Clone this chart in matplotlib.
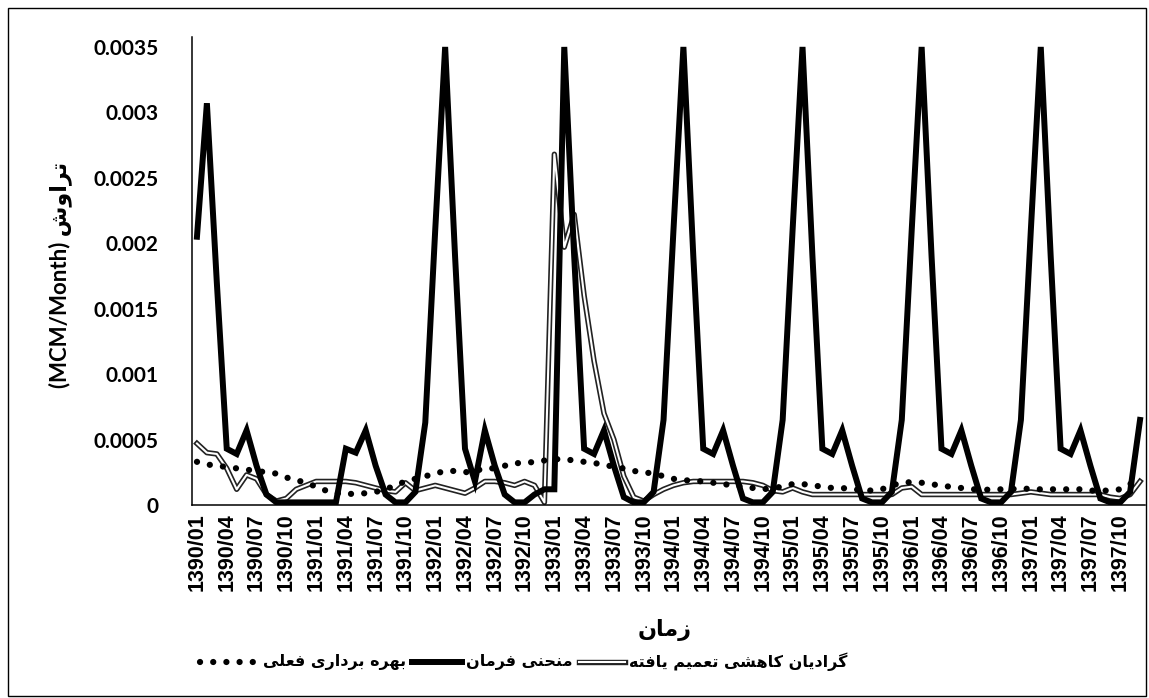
import matplotlib
matplotlib.use("Agg")
import matplotlib.pyplot as plt
from matplotlib.lines import Line2D
from matplotlib.patches import Rectangle

# ---- data ----
years = list(range(1390, 1398))
months = [f"{y}/{m:02d}" for y in years for m in range(1, 13)]
tick_labels = months[::3]

# منحنی فرمان (rule curve)
rule_curve = [
    0.00205, 0.00307, 0.0017, 0.00043, 0.00039, 0.00057, 0.0003, 0.00008, 0.00002, 0.00002, 0.00002, 0.00002,
    0.00002, 0.00002, 0.00002, 0.00043, 0.0004, 0.00057, 0.0003, 0.00008, 0.00002, 0.00002, 0.0001, 0.00063,
    0.0021, 0.0035, 0.0019, 0.00043, 0.00018, 0.00057, 0.0003, 0.00008, 0.00002, 0.00002, 0.00008, 0.00012,
    0.00012, 0.0035, 0.0019, 0.00043, 0.00039, 0.00057, 0.0003, 0.00006, 0.00002, 0.00002, 0.0001, 0.00065,
    0.0021, 0.0035, 0.0019, 0.00043, 0.00039, 0.00057, 0.0003, 0.00005, 0.00002, 0.00002, 0.0001, 0.00065,
    0.0021, 0.0035, 0.0019, 0.00043, 0.00039, 0.00057, 0.0003, 0.00005, 0.00002, 0.00002, 0.0001, 0.00065,
    0.0021, 0.0035, 0.0019, 0.00043, 0.00039, 0.00057, 0.0003, 0.00005, 0.00002, 0.00002, 0.0001, 0.00065,
    0.0021, 0.0035, 0.0019, 0.00043, 0.00039, 0.00057, 0.0003, 0.00005, 0.00002, 0.00002, 0.0001, 0.00065,
]

# گرادیان کاهشی تعمیم یافته (GRG)
grg = [
    0.00047, 0.0004, 0.00039, 0.00028, 0.00012, 0.00023, 0.0002, 0.00008, 0.00003, 0.00005, 0.00012, 0.00015,
    0.00018, 0.00018, 0.00018, 0.00018, 0.00017, 0.00015, 0.00013, 0.00011, 0.0001, 0.00017, 0.00011, 0.00013,
    0.00015, 0.00013, 0.00011, 0.00009, 0.00013, 0.00018, 0.00018, 0.00017, 0.00015, 0.00018, 0.00015, 0.00002,
    0.00268, 0.00197, 0.00222, 0.0016, 0.0011, 0.0007, 0.0005, 0.00022, 0.00006, 0.00003, 0.00008, 0.00012,
    0.00015, 0.00017, 0.00018, 0.00018, 0.00018, 0.00018, 0.00018, 0.00018, 0.00017, 0.00015, 0.00011, 0.0001,
    0.00013, 0.0001, 0.00008, 0.00008, 0.00008, 0.00008, 0.00008, 0.00008, 0.00008, 0.00008, 0.00008, 0.00013,
    0.00014, 0.00008, 0.00008, 0.00008, 0.00008, 0.00008, 0.00008, 0.00008, 0.00008, 0.00008, 0.00008, 0.00009,
    0.0001, 0.00009, 0.00008, 0.00008, 0.00008, 0.00008, 0.00008, 0.00008, 0.00006, 0.00005, 0.00008, 0.00018,
]

# بهره برداری فعلی (current operation)
current = [
    0.00033, 0.00031, 0.0003, 0.00029, 0.00028, 0.00027, 0.00026, 0.00025, 0.00024, 0.00021, 0.00019, 0.00017,
    0.00014, 0.00011, 0.00009, 0.000085, 0.000085, 0.00009, 0.0001, 0.00012, 0.00015, 0.00018, 0.0002, 0.00022,
    0.00024, 0.00026, 0.00026, 0.00025, 0.00026, 0.00028, 0.00028, 0.0003, 0.00032, 0.00032, 0.00033, 0.00034,
    0.00035, 0.00035, 0.00034, 0.00033, 0.00032, 0.00031, 0.00029, 0.00028, 0.00026, 0.00025, 0.00024, 0.00022,
    0.0002, 0.00019, 0.000185, 0.00018, 0.00017, 0.00016, 0.00015, 0.00014, 0.00013, 0.00012, 0.00013, 0.00014,
    0.00016, 0.00016, 0.00015, 0.00014, 0.00013, 0.00013, 0.00012, 0.000115, 0.00011, 0.00012, 0.00015, 0.00017,
    0.000175, 0.00017, 0.00016, 0.000145, 0.00014, 0.00013, 0.00012, 0.00012, 0.000115, 0.00012, 0.00012, 0.00013,
    0.00012, 0.00012, 0.00012, 0.00012, 0.00012, 0.00012, 0.00011, 0.00011, 0.00011, 0.00012, 0.00016, 0.0002,
]

y_ticks = [0, 0.0005, 0.001, 0.0015, 0.002, 0.0025, 0.003, 0.0035]
y_tick_labels = ["0", "0.0005", "0.001", "0.0015", "0.002", "0.0025", "0.003", "0.0035"]

# ---- tiny Persian shaper (matplotlib has no arabic shaping) ----
FORMS = {
    "ا": ("\ufe8d", "\ufe8e", None, None),
    "ب": ("\ufe8f", "\ufe90", "\ufe91", "\ufe92"),
    "ت": ("\ufe95", "\ufe96", "\ufe97", "\ufe98"),
    "ح": ("\ufea1", "\ufea2", "\ufea3", "\ufea4"),
    "د": ("\ufea9", "\ufeaa", None, None),
    "ر": ("\ufead", "\ufeae", None, None),
    "ز": ("\ufeaf", "\ufeb0", None, None),
    "ش": ("\ufeb5", "\ufeb6", "\ufeb7", "\ufeb8"),
    "ع": ("\ufec9", "\ufeca", "\ufecb", "\ufecc"),
    "ف": ("\ufed1", "\ufed2", "\ufed3", "\ufed4"),
    "ک": ("\ufb8e", "\ufb8f", "\ufb90", "\ufb91"),
    "گ": ("\ufb92", "\ufb93", "\ufb94", "\ufb95"),
    "ل": ("\ufedd", "\ufede", "\ufedf", "\ufee0"),
    "م": ("\ufee1", "\ufee2", "\ufee3", "\ufee4"),
    "ن": ("\ufee5", "\ufee6", "\ufee7", "\ufee8"),
    "ه": ("\ufee9", "\ufeea", "\ufeeb", "\ufeec"),
    "و": ("\ufeed", "\ufeee", None, None),
    "ی": ("\ufbfc", "\ufbfd", "\ufbfe", "\ufbff"),
}


def fa(s):
    out = []
    for k, c in enumerate(s):
        f = FORMS.get(c)
        if f is None:
            out.append(c)
            continue
        prev = s[k - 1] if k > 0 else ""
        nxt = s[k + 1] if k + 1 < len(s) else ""
        jp = prev in FORMS and FORMS[prev][2] is not None
        jn = f[2] is not None and nxt in FORMS
        if jp and jn:
            out.append(f[3])
        elif jp:
            out.append(f[1])
        elif jn:
            out.append(f[2])
        else:
            out.append(f[0])
    return "".join(reversed(out))


W, H = 1149, 698
fig = plt.figure(figsize=(W / 100, H / 100), dpi=100)
fig.patches.append(Rectangle((8 / W, 1 - 696 / H), (1146 - 8) / W, (696 - 8) / H,
                             transform=fig.transFigure, fill=False, ec="black", lw=1.0))

ax = fig.add_axes([192 / W, 1 - 505 / H, (1145 - 192) / W, (505 - 37) / H])
x = list(range(len(months)))

# double line: dark outline with white core
ax.plot(x, grg, color="#222222", lw=3.9, solid_joinstyle="round", zorder=2)
ax.plot(x, grg, color="white", lw=1.5, solid_joinstyle="round", zorder=2.1)
ax.plot(x, rule_curve, color="black", lw=4.3, solid_joinstyle="miter", zorder=3)
ax.plot(x, current, color="black", lw=4.5, linestyle=(0, (0.01, 2.1)),
        dash_capstyle="round", zorder=4)

ax.set_xlim(-0.5, len(months) - 0.5)
ax.set_ylim(0, 0.003576)
ax.set_xticks(x[::3])
ax.set_xticklabels(tick_labels, rotation=90, fontsize=15.5, fontweight="bold",
                   family="Liberation Sans")
ax.set_yticks(y_ticks)
ax.set_yticklabels(y_tick_labels, fontsize=15, fontweight="bold", family="Lato")
ax.tick_params(axis="both", length=0)
ax.tick_params(axis="y", pad=24)
ax.tick_params(axis="x", pad=6)
for side in ["top", "right"]:
    ax.spines[side].set_visible(False)
for side in ["left", "bottom"]:
    ax.spines[side].set_linewidth(1.1)

# axis titles
fig.text(665 / W, 1 - 630 / H, fa("زمان"), ha="center", va="center",
         fontsize=16, fontweight="bold", family="DejaVu Sans")
fig.text(60 / W, 1 - 275 / H, "(MCM/Month) " + fa("تراوش"), rotation=90,
         ha="center", va="center", fontsize=16, fontweight="bold",
         family=["Lato", "DejaVu Sans"])

# legend drawn by hand, laid out left to right with measured text widths
ly = 1 - 662 / H
renderer = fig.canvas.get_renderer()
legend_items = [
    ("dots", 62, fa("بهره برداری فعلی")),
    ("solid", 50, fa("منحنی فرمان")),
    ("double", 46, fa("گرادیان کاهشی تعمیم یافته")),
]
texts = []
total = 0
for kind, hw, label in legend_items:
    t = fig.text(0, ly, label, ha="left", va="center", fontsize=11.5,
                 fontweight="bold", family="DejaVu Sans")
    tw = t.get_window_extent(renderer).width
    texts.append((t, tw))
    total += hw + 4 + tw + 6
xpos = 525 - total / 2
for (kind, hw, label), (t, tw) in zip(legend_items, texts):
    x0, x1 = xpos / W, (xpos + hw) / W
    if kind == "dots":
        fig.add_artist(Line2D([x0 + 3 / W, x1], [ly, ly], transform=fig.transFigure, color="black",
                              lw=4.5, linestyle=(0, (0.01, 2.1)), dash_capstyle="round"))
    elif kind == "solid":
        fig.add_artist(Line2D([x0, x1], [ly, ly], transform=fig.transFigure,
                              color="black", lw=4.3))
    else:
        fig.add_artist(Line2D([x0, x1], [ly, ly], transform=fig.transFigure,
                              color="#222222", lw=3.9))
        fig.add_artist(Line2D([x0, x1], [ly, ly], transform=fig.transFigure,
                              color="white", lw=1.5))
    t.set_x((xpos + hw + 4) / W)
    xpos += hw + 4 + tw + 6

fig.savefig("out.png", dpi=100)
